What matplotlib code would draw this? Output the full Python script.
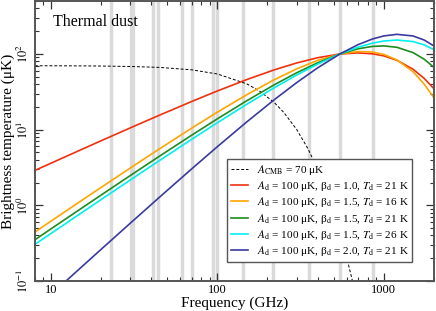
import matplotlib
matplotlib.use('Agg')
import matplotlib.pyplot as plt
from matplotlib.ticker import FixedLocator, FixedFormatter, LogLocator, NullFormatter

plt.rcParams['font.family'] = ['Liberation Serif', 'DejaVu Serif']
plt.rcParams['mathtext.fontset'] = 'stix'

# Planck / WMAP frequency bands (GHz)
bandas = [23, 41, 44, 61, 70, 94, 100, 143, 217, 353, 545, 857]
banda_ancha = [30.5]

# CMB curve (uK, RJ units)
nu_cmb = [8, 10, 15, 20, 30, 45, 70, 100, 150, 180, 220, 250, 300, 350, 400, 470, 545, 600, 650, 700]
t_cmb = [69.88, 69.82, 69.59, 69.28, 68.39, 66.45, 61.77, 54.41, 40.35, 32.20, 22.76, 17.03,
         10.02, 5.623, 3.037, 1.221, 0.4381, 0.2016, 0.0981, 0.0472]

# dust curves (uK)
nu = [8, 10, 15, 20, 30, 45, 70, 100, 150, 220, 300, 400, 545, 700, 857, 1000, 1200, 1500, 1750, 2000]
t_b10_t21 = [2.889, 3.605, 5.376, 7.128, 10.566, 15.574, 23.53, 32.45, 45.85, 61.73, 76.13, 89.19,
             100, 103.3, 100.5, 94.37, 82.60, 62.88, 47.63, 34.85]
t_b15_t16 = [0.4437, 0.6183, 1.1273, 1.7225, 3.1175, 5.596, 10.448, 17.02, 28.87, 45.73, 63.60, 82.14,
             100, 107.8, 106.0, 98.69, 83.47, 58.33, 40.02, 26.49]
t_b15_t21 = [0.3501, 0.4883, 0.8918, 1.3652, 2.479, 4.477, 8.436, 13.90, 24.05, 39.21, 56.47, 76.41,
             100, 117.1, 126.0, 127.8, 122.6, 104.3, 85.36, 66.76]
t_b15_t26 = [0.3044, 0.4246, 0.7767, 1.1900, 2.1659, 3.924, 7.436, 12.34, 21.61, 35.85, 52.72, 73.27,
             100, 122.8, 139.2, 148.3, 152.9, 146.0, 131.9, 114.4]
t_b20_t21 = [0.04241, 0.06614, 0.1480, 0.2616, 0.5816, 1.2863, 3.023, 5.955, 12.62, 24.92, 41.91, 65.46,
             100, 132.7, 158.0, 173.1, 181.8, 173.0, 152.9, 127.9]

fig = plt.figure(figsize=(4.36, 3.11), dpi=100)
ax = fig.add_axes([0.080, 0.0965, 0.915, 0.9])

for b in bandas:
    ax.axvline(b, color='#dadada', lw=2.5, zorder=0)
for b in banda_ancha:
    ax.axvline(b, color='#dadada', lw=3.8, zorder=0)

ax.plot(nu_cmb, t_cmb, color='black', lw=0.7, ls=(0, (3, 2)),
        label=r'$A_{\rm CMB}$ = 70 μK')
ax.plot(nu, t_b10_t21, color='#f0300f', lw=1.2,
        label=r'$A_{\rm d}$ = 100 μK, β$_{\rm d}$ = 1.0, $T_{\rm d}$ = 21 K')
ax.plot(nu, t_b15_t16, color='#ffa500', lw=1.2,
        label=r'$A_{\rm d}$ = 100 μK, β$_{\rm d}$ = 1.5, $T_{\rm d}$ = 16 K')
ax.plot(nu, t_b15_t21, color='#1e8c1e', lw=1.2,
        label=r'$A_{\rm d}$ = 100 μK, β$_{\rm d}$ = 1.5, $T_{\rm d}$ = 21 K')
ax.plot(nu, t_b15_t26, color='#00f0f0', lw=1.2,
        label=r'$A_{\rm d}$ = 100 μK, β$_{\rm d}$ = 1.5, $T_{\rm d}$ = 26 K')
ax.plot(nu, t_b20_t21, color='#3a3aa0', lw=1.2,
        label=r'$A_{\rm d}$ = 100 μK, β$_{\rm d}$ = 2.0, $T_{\rm d}$ = 21 K')

ax.set_xscale('log')
ax.set_yscale('log')
ax.set_xlim(8, 2000)
ax.set_ylim(0.1, 500)

ax.xaxis.set_major_locator(FixedLocator([10, 100, 1000]))
ax.xaxis.set_major_formatter(FixedFormatter(['10', '100', '1000']))
ax.xaxis.set_minor_locator(LogLocator(base=10, subs=range(2, 10)))
ax.xaxis.set_minor_formatter(NullFormatter())
ax.yaxis.set_minor_locator(LogLocator(base=10, subs=range(2, 10)))
ax.yaxis.set_minor_formatter(NullFormatter())
ax.set_yticks([0.1, 1, 10, 100])
ax.set_yticklabels([r'$10^{-1}$', r'$10^{0}$', r'$10^{1}$', r'$10^{2}$'], rotation=90, va='center')

ax.tick_params(which='both', direction='in', top=True, right=True, color='#333333', labelsize=9, pad=2.5)
ax.tick_params(which='major', length=6, width=0.9)
ax.tick_params(which='minor', length=3, width=0.8)
for s in ax.spines.values():
    s.set_color('#555555')
    s.set_linewidth(1.4)

ax.set_xlabel('Frequency (GHz)', fontsize=11, labelpad=0)
ax.set_ylabel('Brightness temperature (μK)', fontsize=11, labelpad=1)
ax.text(0.045, 0.925, 'Thermal dust', transform=ax.transAxes, fontsize=11.5, va='center')

leg = ax.legend(loc='lower left', bbox_to_anchor=(0.481, 0.068), borderaxespad=0,
                fontsize=8.1, frameon=True, fancybox=False, handlelength=1.5,
                labelspacing=0.2, borderpad=0.35, handletextpad=0.8)
leg.get_frame().set_edgecolor('#555555')
leg.get_frame().set_linewidth(1.0)
leg.get_frame().set_alpha(1)

fig.savefig('out.png', dpi=100)
